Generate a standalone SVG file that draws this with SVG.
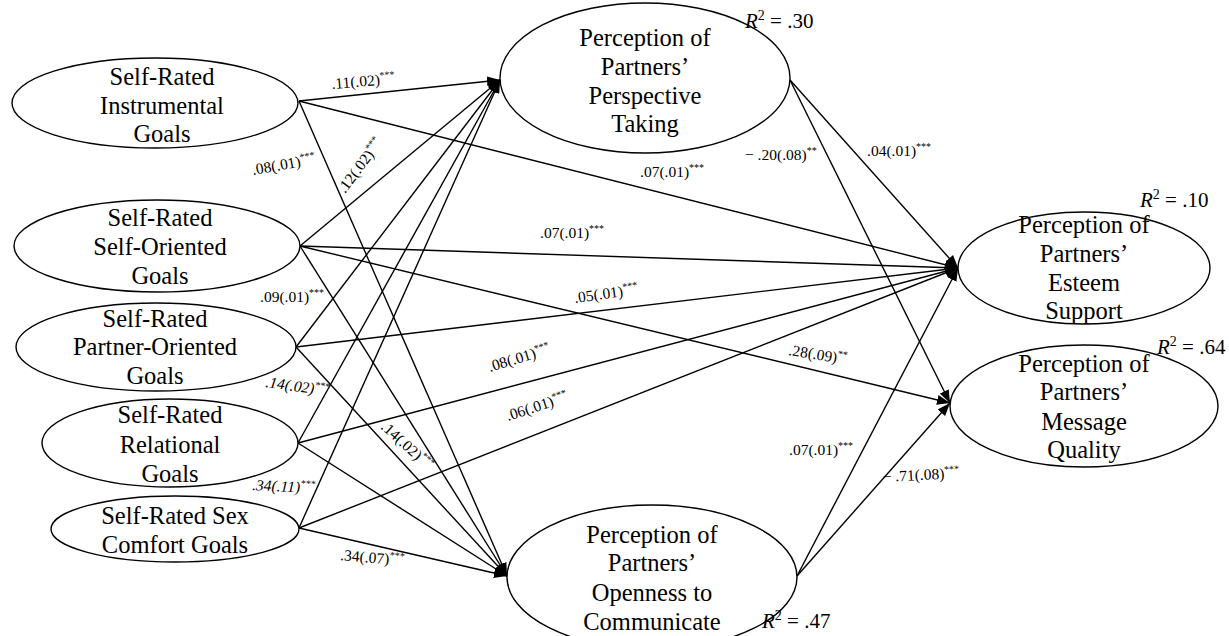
<svg xmlns="http://www.w3.org/2000/svg" width="1229" height="636" viewBox="0 0 1229 636" font-family="'Liberation Serif', Tinos, 'DejaVu Serif', 'Times New Roman', serif">
<style>
.node ellipse{fill:#fff;stroke:#000;stroke-width:1.4}
.node text{font-family:'Liberation Serif',Tinos,'DejaVu Serif','Times New Roman',serif;font-size:24.5px;text-anchor:middle;fill:#000}
.edges line{stroke:#000;stroke-width:1.4;marker-end:url(#ah)}
.lbl{font-family:'Liberation Serif',Tinos,'DejaVu Serif','Times New Roman',serif;font-size:15.5px;fill:#000}
.lbl .s{font-size:10px}
.it{font-style:italic}
.r2{font-family:'Liberation Serif',Tinos,'DejaVu Serif','Times New Roman',serif;font-size:21px;fill:#000}
</style>
<defs>
<marker id="ah" viewBox="0 0 13 10" refX="13" refY="5" markerWidth="13" markerHeight="10" markerUnits="userSpaceOnUse" orient="auto">
<path d="M0,0 L13,5 L0,10 z" fill="#000"/>
</marker>
</defs>
<rect width="1229" height="636" fill="#fff"/>
<g class="edges">
<line x1="299" y1="101" x2="500" y2="80"/>
<line x1="299" y1="101" x2="507" y2="576"/>
<line x1="299" y1="101" x2="958" y2="268"/>
<line x1="300" y1="246" x2="500" y2="80"/>
<line x1="300" y1="246" x2="958" y2="268"/>
<line x1="300" y1="246" x2="950" y2="403"/>
<line x1="300" y1="246" x2="507" y2="576"/>
<line x1="296" y1="347" x2="500" y2="80"/>
<line x1="296" y1="347" x2="958" y2="268"/>
<line x1="296" y1="347" x2="507" y2="576"/>
<line x1="298" y1="443" x2="500" y2="80"/>
<line x1="298" y1="443" x2="958" y2="268"/>
<line x1="298" y1="443" x2="507" y2="576"/>
<line x1="299" y1="528" x2="500" y2="80"/>
<line x1="299" y1="528" x2="958" y2="268"/>
<line x1="299" y1="528" x2="507" y2="576"/>
<line x1="790" y1="80" x2="958" y2="268"/>
<line x1="790" y1="80" x2="950" y2="403"/>
<line x1="797" y1="576" x2="958" y2="268"/>
<line x1="797" y1="576" x2="950" y2="403"/>
</g>
<g id="n1" class="node"><ellipse cx="155" cy="103" rx="143" ry="45"/><text x="162" y="85">Self-Rated</text><text x="162" y="114">Instrumental</text><text x="162" y="142">Goals</text></g>
<g id="n2" class="node"><ellipse cx="157" cy="246" rx="143" ry="46"/><text x="160" y="226">Self-Rated</text><text x="160" y="255">Self-Oriented</text><text x="160" y="284">Goals</text></g>
<g id="n3" class="node"><ellipse cx="156" cy="347" rx="140" ry="44"/><text x="155" y="327">Self-Rated</text><text x="155" y="355">Partner-Oriented</text><text x="155" y="384">Goals</text></g>
<g id="n4" class="node"><ellipse cx="170" cy="443" rx="128" ry="44"/><text x="170" y="423">Self-Rated</text><text x="170" y="453">Relational</text><text x="170" y="482">Goals</text></g>
<g id="n5" class="node"><ellipse cx="175" cy="529" rx="124" ry="33"/><text x="175" y="524">Self-Rated Sex</text><text x="175" y="553">Comfort Goals</text></g>
<g id="n6" class="node"><ellipse cx="645" cy="78" rx="145" ry="75"/><text x="645" y="46">Perception of</text><text x="645" y="75">Partners’</text><text x="645" y="104">Perspective</text><text x="645" y="132">Taking</text></g>
<g id="n7" class="node"><ellipse cx="652" cy="577" rx="145" ry="72"/><text x="652" y="543">Perception of</text><text x="652" y="571">Partners’</text><text x="652" y="601">Openness to</text><text x="652" y="630">Communicate</text></g>
<g id="n8" class="node"><ellipse cx="1084" cy="268" rx="126" ry="56"/><text x="1084" y="233">Perception of</text><text x="1084" y="262">Partners’</text><text x="1084" y="291">Esteem</text><text x="1084" y="319">Support</text></g>
<g id="n9" class="node"><ellipse cx="1084" cy="406" rx="134" ry="61"/><text x="1084" y="372">Perception of</text><text x="1084" y="400">Partners’</text><text x="1084" y="430">Message</text><text x="1084" y="458">Quality</text></g>
<g id="labels">
<text class="lbl" x="332" y="89" transform="rotate(-5 332 89)">.11(.02)<tspan class="s" dy="-6">***</tspan></text>
<text class="lbl" x="253" y="175" transform="rotate(-10 253 175)">.08(.01)<tspan class="s" dy="-6">***</tspan></text>
<text class="lbl" x="345" y="194" transform="rotate(-53 345 194)">.12(.02)<tspan class="s" dy="-6">***</tspan></text>
<text class="lbl" x="640" y="177">.07(.01)<tspan class="s" dy="-6">***</tspan></text>
<text class="lbl" x="745" y="160">− .20(.08)<tspan class="s" dy="-6">**</tspan></text>
<text class="lbl" x="867" y="156">.04(.01)<tspan class="s" dy="-6">***</tspan></text>
<text class="lbl" x="540" y="238">.07(.01)<tspan class="s" dy="-6">***</tspan></text>
<text class="lbl" x="260" y="302">.09(.01)<tspan class="s" dy="-6">***</tspan></text>
<text class="lbl" x="575" y="303" transform="rotate(-8 575 303)">.05(.01)<tspan class="s" dy="-6">***</tspan></text>
<text class="lbl it" x="265" y="387" transform="rotate(8 265 387)">.14(.02)<tspan class="s" dy="-6">***</tspan></text>
<text class="lbl" x="490" y="372" transform="rotate(-17 490 372)">.08(.01)<tspan class="s" dy="-6">***</tspan></text>
<text class="lbl" x="508" y="421" transform="rotate(-18 508 421)">.06(.01)<tspan class="s" dy="-6">***</tspan></text>
<text class="lbl" x="380" y="428" transform="rotate(42 380 428)">.14(.02)<tspan class="s" dy="-6">***</tspan></text>
<text class="lbl it" x="252" y="490" transform="rotate(3 252 490)">.34(.11)<tspan class="s" dy="-6">***</tspan></text>
<text class="lbl" x="340" y="560" transform="rotate(5 340 560)">.34(.07)<tspan class="s" dy="-6">***</tspan></text>
<text class="lbl" x="788" y="355" transform="rotate(9 788 355)">.28(.09)<tspan class="s" dy="-6">**</tspan></text>
<text class="lbl" x="789" y="455">.07(.01)<tspan class="s" dy="-6">***</tspan></text>
<text class="lbl" x="883" y="482" transform="rotate(-3 883 482)">− .71(.08)<tspan class="s" dy="-6">***</tspan></text>
</g>
<g id="r2">
<text class="r2" x="745" y="28"><tspan font-style="italic">R</tspan><tspan font-size="14" dy="-8">2</tspan><tspan dy="8"> = .30</tspan></text>
<text class="r2" x="1140" y="207"><tspan font-style="italic">R</tspan><tspan font-size="14" dy="-8">2</tspan><tspan dy="8"> = .10</tspan></text>
<text class="r2" x="1157" y="354"><tspan font-style="italic">R</tspan><tspan font-size="14" dy="-8">2</tspan><tspan dy="8"> = .64</tspan></text>
<text class="r2" x="762" y="628"><tspan font-style="italic">R</tspan><tspan font-size="14" dy="-8">2</tspan><tspan dy="8"> = .47</tspan></text>
</g>
</svg>
